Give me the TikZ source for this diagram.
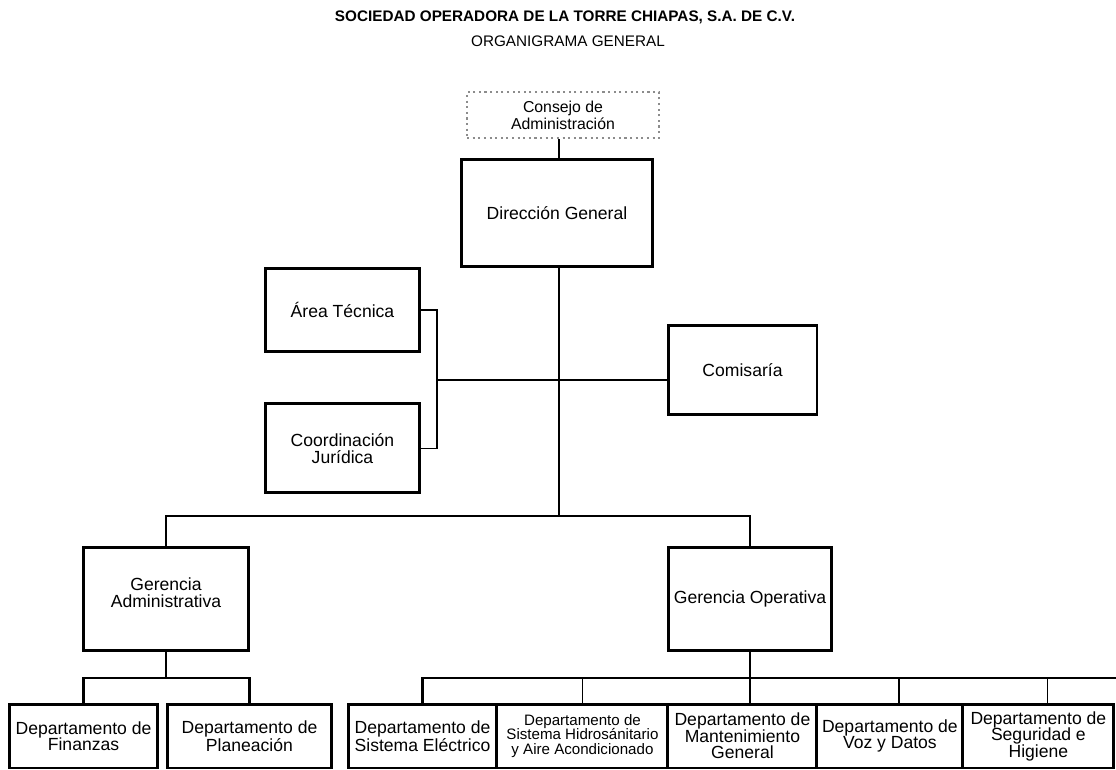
\documentclass[tikz,border=0pt]{standalone}
\usepackage{fontspec}
\setmainfont{Liberation Sans}
\usepackage{tikz}
\usetikzlibrary{positioning}
\definecolor{orgGris}{HTML}{8C8C8C}

\begin{document}
\begin{tikzpicture}[
        x=0.02cm, y=-0.02cm,
        font=\fontsize{10}{9.4}\selectfont,
        % Estilos de los nodos
        puesto/.style={
            rectangle,
            draw=black,
            line width=1.7pt,
            align=center,
            inner sep=2pt
        },
        consejo/.style={
            rectangle,
            draw=orgGris,
            dotted,
            line width=1.2pt,
            align=center,
            minimum width=3.84cm,
            minimum height=0.92cm,
            font=\fontsize{9}{9.6}\selectfont
        },
        depto/.style={puesto, minimum height=1.28cm},
        % Estilos de las lineas
        linea/.style={draw=black, line width=0.9pt},
        bus/.style={draw=black, line width=1.4pt}
    ]

    \useasboundingbox (0,0) rectangle (1116,770);

    % -- Titulo --
    \node[font=\fontsize{8.7}{10}\selectfont\bfseries] (titulo) at (565,17) {SOCIEDAD OPERADORA DE LA TORRE CHIAPAS, S.A. DE C.V.};
    \node[font=\fontsize{8.7}{10}\selectfont] (subtitulo) at (568,41) {ORGANIGRAMA GENERAL};

    % -- Direccion --
    \node[consejo] (cons) at (563,115) {Consejo de\\Administración};
    \node[puesto, minimum width=3.84cm, minimum height=2.16cm] (dir) at (557,213) {Dirección General};

    % -- Staff --
    \node[puesto, minimum width=3.1cm, minimum height=1.68cm] (area) at (342.5,310) {Área Técnica};
    \node[puesto, minimum width=3.1cm, minimum height=1.78cm, below=0.98cm of area] (coord) {\\[-2pt]Coordinación\\Jurídica};
    \node[puesto, minimum width=2.98cm, minimum height=1.8cm] (comis) at (742.5,370) {Comisaría};

    % -- Gerencias --
    \node[puesto, minimum width=3.32cm, minimum height=2.08cm] (gadm) at (166,599) {Gerencia\\Administrativa\\[-2pt]};
    \node[puesto, minimum width=3.28cm, minimum height=2.08cm] (gop) at (750,599) {Gerencia Operativa};

    % -- Departamentos administrativos --
    \node[depto, minimum width=2.98cm] (fin) at (83.5,736) {Departamento de\\Finanzas};
    \node[depto, minimum width=3.28cm, right=0.13cm of fin] (plan) {Departamento de\\Planeación};

    % -- Departamentos operativos --
    \node[depto, minimum width=2.98cm] (elec) at (422.5,736) {Departamento de\\Sistema Eléctrico};
    \node[depto, minimum width=3.42cm, right=-1.7pt of elec, font=\fontsize{8.6}{8.2}\selectfont] (hidro) {Departamento de\\Sistema Hidrosánitario\\y Aire Acondicionado};
    \node[depto, minimum width=2.98cm, right=-1.7pt of hidro] (mant) {Departamento de\\Mantenimiento\\General};
    \node[depto, minimum width=2.92cm, right=-1.7pt of mant] (voz) {Departamento de\\Voz y Datos};
    \node[depto, minimum width=3.02cm, right=-1.7pt of voz] (seg) {Departamento de\\Seguridad e\\Higiene};

    % -- Puntos de union --
    \coordinate (brk) at (437,380);
    \coordinate (bus) at (559,516);
    \coordinate (admbus) at (166,678);
    \coordinate (opbus) at (750,678);
    \coordinate (opfin) at (1116,678);

    % -- Conexiones --
    \draw[linea] (cons.south -| bus) -- (dir.north -| bus);
    \draw[linea] (dir.south -| bus) -- (bus);
    \draw[linea] (area.east) -| (brk) |- (coord.east);
    \draw[linea] (brk) -- (brk -| comis.west);
    \draw[bus] (gadm.north) |- (bus) -| (gop.north);

    % Gerencia Administrativa
    \draw[linea] (gadm.south) -- (admbus);
    \draw[bus] (fin.north) |- (admbus) -| (plan.north);

    % Gerencia Operativa
    \draw[linea] (gop.south) -- (opbus |- mant.north);
    \draw[bus] (elec.north) |- (opfin);
    \draw[linea] (hidro.north) -- (hidro.north |- opbus);
    \foreach \d in {voz, seg}
        \draw[linea] ([xshift=0.18cm]\d.north) -- ([xshift=0.18cm]\d.north |- opbus);

\end{tikzpicture}
\end{document}
